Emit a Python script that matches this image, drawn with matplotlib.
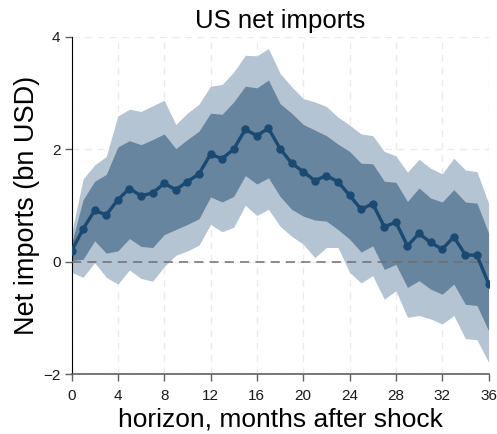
import numpy as np
import matplotlib
matplotlib.use("Agg")
import matplotlib.pyplot as plt

plt.rcParams['font.family'] = ['Liberation Sans', 'DejaVu Sans']

horizon = list(range(0, 37))
irf = [0.19, 0.58, 0.91, 0.83, 1.10, 1.30, 1.17, 1.22, 1.39, 1.28,
       1.42, 1.56, 1.91, 1.83, 2.00, 2.35, 2.24, 2.37, 2.01, 1.75,
       1.60, 1.44, 1.53, 1.42, 1.18, 0.93, 1.03, 0.62, 0.70, 0.28,
       0.50, 0.34, 0.22, 0.44, 0.12, 0.11, -0.39]
inner_upper = [0.32, 1.10, 1.43, 1.55, 2.04, 2.15, 2.08, 2.17, 2.27, 2.01,
               2.17, 2.32, 2.64, 2.62, 2.84, 3.12, 3.09, 3.23, 2.81, 2.64,
               2.44, 2.34, 2.24, 2.09, 1.96, 1.75, 1.74, 1.43, 1.41, 1.07,
               1.31, 1.13, 1.06, 1.28, 1.06, 1.04, 0.51]
inner_lower = [0.02, 0.04, 0.37, 0.15, 0.19, 0.41, 0.27, 0.25, 0.48, 0.57,
               0.66, 0.76, 1.15, 1.06, 1.16, 1.53, 1.38, 1.49, 1.16, 0.93,
               0.81, 0.74, 0.72, 0.57, 0.40, 0.17, 0.28, -0.14, -0.05, -0.46,
               -0.34, -0.49, -0.58, -0.40, -0.76, -0.78, -1.23]
outer_upper = [0.50, 1.47, 1.72, 1.87, 2.59, 2.71, 2.67, 2.77, 2.87, 2.44,
               2.64, 2.80, 3.12, 3.15, 3.37, 3.67, 3.66, 3.79, 3.35, 3.11,
               2.90, 2.84, 2.76, 2.57, 2.43, 2.27, 2.24, 1.96, 1.88, 1.59,
               1.82, 1.66, 1.56, 1.84, 1.63, 1.60, 1.04]
outer_lower = [-0.19, -0.28, -0.02, -0.28, -0.40, -0.15, -0.30, -0.35, -0.09, 0.11,
               0.19, 0.29, 0.66, 0.53, 0.61, 1.00, 0.82, 0.93, 0.63, 0.45,
               0.31, 0.07, 0.25, 0.25, -0.19, -0.38, -0.25, -0.67, -0.52, -0.99,
               -0.96, -1.02, -1.11, -0.96, -1.37, -1.39, -1.79]

xticks = [0, 4, 8, 12, 16, 20, 24, 28, 32, 36]
yticks = [-2, 0, 2, 4]

fig = plt.figure(figsize=(4.97, 4.34), dpi=100)
ax = fig.add_axes([0.1439, 0.1382, 0.8391, 0.7772])

for x in xticks:
    ax.axvline(x, color='#ebebeb', lw=1.0, ls=(0, (5, 4)), zorder=0)
for y in yticks:
    ax.axhline(y, color='#ebebeb', lw=1.0, ls=(0, (5, 4)), zorder=0)

ax.fill_between(horizon, outer_lower, outer_upper, color='#b5c4d2', lw=0, zorder=1)
ax.fill_between(horizon, inner_lower, inner_upper, color='#67859f', lw=0, zorder=2)
ax.axhline(0, color='#6e6e6e', lw=1.1, ls=(0, (6, 4)), zorder=3)
ax.plot(horizon, irf, color='#1a4a72', lw=2.4, marker='o', ms=5, zorder=4)

ax.set_xlim(0, 36)
ax.set_ylim(-2, 4)
ax.set_xticks(xticks)
ax.set_yticks(yticks)
ax.spines['top'].set_visible(False)
ax.spines['right'].set_visible(False)
ax.spines['left'].set_color('black')
ax.spines['bottom'].set_color('#606060')
ax.spines['bottom'].set_linewidth(1.2)
ax.tick_params(axis='both', direction='out', length=5, width=1, color='#606060',
               labelsize=11, labelcolor='#1a1a1a')
ax.tick_params(axis='x', pad=6)
ax.tick_params(axis='y', pad=3)

ax.set_title('US net imports', fontsize=18.5, pad=6)
ax.set_xlabel('horizon, months after shock', fontsize=19, labelpad=3)
ax.set_ylabel('Net imports (bn USD)', fontsize=19.5, labelpad=2)

fig.savefig('out.png', dpi=100)
